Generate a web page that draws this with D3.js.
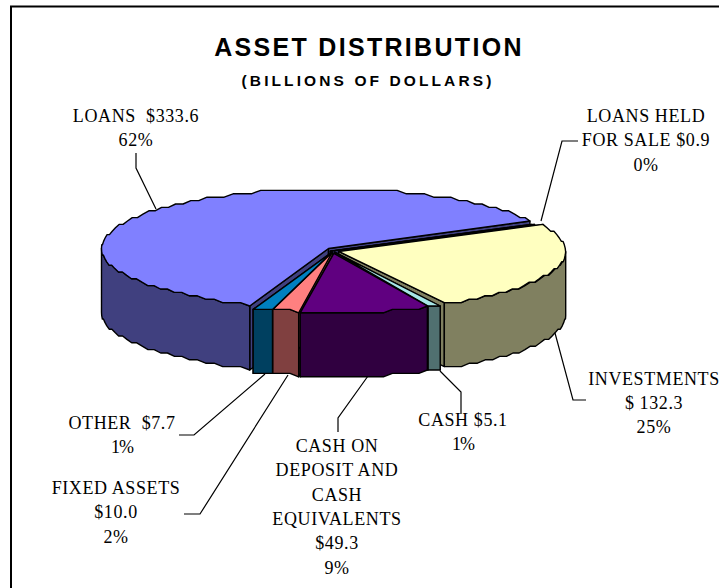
<!DOCTYPE html>
<html><head><meta charset="utf-8">
<style>html,body{margin:0;padding:0;background:#fff;overflow:hidden}svg{display:block}</style>
<script src="https://cdn.jsdelivr.net/npm/d3@7"></script></head>
<body><svg id="c" width="719" height="588"></svg>
<script>
const categories=["LOANS","LOANS HELD FOR SALE","INVESTMENTS","CASH","CASH ON DEPOSIT AND CASH EQUIVALENTS","FIXED ASSETS","OTHER"];
const values=[333.6,0.9,132.3,5.1,49.3,10.0,7.7];
const topColors=["#8080ff","#5050a8","#ffffc0","#a6e6e6","#600080","#ff8080","#0080c0"];
const wallColors=["#40407f","#303060","#808060","#507070","#300040","#804040","#004060"];
const explodeFactors=[1,-0.5,1,0.6,1,0.6,0.6];
const titleText="ASSET DISTRIBUTION";
const subtitleText="(BILLIONS OF DOLLARS)";
const labelLines=[["LOANS  $333.6","62%"],["LOANS HELD","FOR SALE $0.9","0%"],["INVESTMENTS","$ 132.3","25%"],["CASH $5.1","1%"],["CASH ON","DEPOSIT AND","CASH","EQUIVALENTS","$49.3","9%"],["FIXED ASSETS","$10.0","2%"],["OTHER  $7.7","1%"]];
const labelPos=[[136,122,24.4],[646,122,24.4],[654,385,24],[463,426,24.4],[337,452,24.3],[116,494,24.4],[122,429,24.4]];
const leaders=[[[136,153],[136,168],[156,209]],[[578,141],[562,141],[541,221]],[[555,333],[573,400],[586,400]],[[440,371],[461,392],[461,414]],[[368,376],[338,418],[338,432]],[[288,375],[200,514],[184,514]],[[265,374],[194,435],[179,435]]];

const svg=d3.select("#c");
const rad=d=>d*Math.PI/180;
const cx=333,cy=250.5,rx=227,ry=59.5,depth=64;
const minDrawn=2.4;
const pie=d3.pie().sort(null).value(d=>Math.max(d,minDrawn)).startAngle(rad(200.3)).endAngle(rad(200.3+360));
const arcs=pie(values);
const line=d3.line();
const grid=v=>Math.round(v/3.4)*3.4;
function rim(a,o){return [o[0]+rx*Math.sin(a),grid(o[1]-ry*Math.cos(a))];}
function samples(a0,a1){const n=Math.max(1,Math.ceil((a1-a0)/rad(2.5)));return d3.range(n+1).map(i=>a0+(a1-a0)*i/n);}
const slices=arcs.map((d,i)=>{const mid=(d.startAngle+d.endAngle)/2,k=explodeFactors[i];
  return {i,a0:d.startAngle,a1:d.endAngle,mid,o:[cx+6*k*Math.sin(mid),cy-3*k*Math.cos(mid)]};});
svg.append("path").attr("d",line([[11,588],[11,6.5],[719,6.5]])).attr("fill","none").attr("stroke","#000").attr("stroke-width",2);

const down=p=>[p[0],p[1]+depth];
const order=[...slices].sort((a,b)=>Math.abs(Math.abs(((b.mid*180/Math.PI)%360)-180))-Math.abs(Math.abs(((a.mid*180/Math.PI)%360)-180)));
const g=svg.append("g").attr("stroke","#000").attr("stroke-width",1.4).attr("stroke-linejoin","round");
order.forEach(s=>{[s.a0,s.a1].forEach(a=>{const e=rim(a,s.o);
  g.append("path").attr("d",line([s.o,e,down(e),down(s.o)])+"Z").attr("fill",wallColors[s.i]);});});
order.forEach(s=>{
  [[s.a0,s.a1],[s.a0-2*Math.PI,s.a1-2*Math.PI]].forEach(([a0,a1])=>{
    const l=Math.max(a0,rad(90)),h=Math.min(a1,rad(270));
    if(h<=l)return;
    const pts=samples(l,h).map(a=>rim(a,s.o));
    g.append("path").attr("d",line(pts.concat(pts.slice().reverse().map(down)))+"Z").attr("fill",wallColors[s.i]);
  });
});
slices.forEach(s=>{
  const pts=[s.o].concat(samples(s.a0,s.a1).map(a=>rim(a,s.o)));
  g.append("path").attr("d",line(pts)+"Z").attr("fill",topColors[s.i]);
});
svg.append("g").selectAll("path").data(leaders).join("path").attr("d",d=>line(d)).attr("fill","none").attr("stroke","#000").attr("stroke-width",1.2);
const sans="'Liberation Sans',Arial,sans-serif",serif="'Liberation Serif','Times New Roman',serif";
svg.append("text").attr("x",369).attr("y",56).attr("text-anchor","middle").attr("font-family",sans).attr("font-weight",700).attr("font-size",25).attr("letter-spacing",2.3).text(titleText);
svg.append("text").attr("x",368).attr("y",86).attr("text-anchor","middle").attr("font-family",sans).attr("font-weight",700).attr("font-size",15.5).attr("letter-spacing",3.1).text(subtitleText);
labelLines.forEach((lines,i)=>{const [x,y,h]=labelPos[i];
  svg.append("g").selectAll("text").data(lines).join("text").attr("x",x).attr("y",(d,j)=>y+j*h).attr("text-anchor","middle").attr("font-family",serif).attr("font-size",18).attr("letter-spacing",d=>d==="1%"?-1:0.6).style("white-space","pre").text(d=>d);
});
</script></body></html>
